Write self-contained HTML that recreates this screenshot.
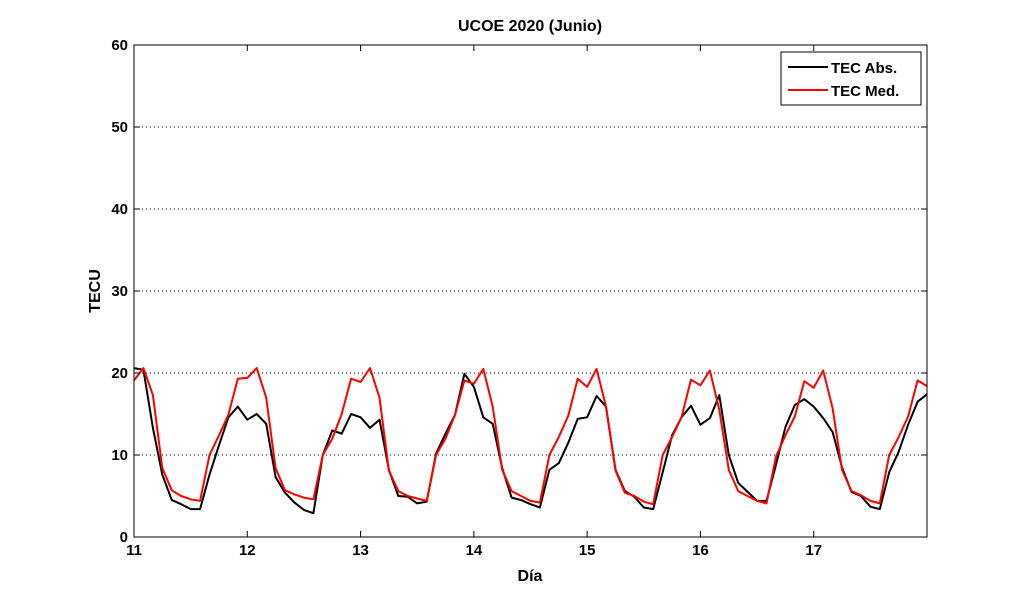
<!DOCTYPE html>
<html><head><meta charset="utf-8"><style>
body{margin:0;background:#fff}
svg{display:block;font-family:"Liberation Sans",Arial,sans-serif;font-weight:bold}
</style></head><body>
<svg id="chart" width="1024" height="604" viewBox="0 0 1024 604">
<rect x="0" y="0" width="1024" height="604" fill="#fff"/>
<text x="530" y="31" text-anchor="middle" font-size="16">UCOE 2020 (Junio)</text>
<g id="grid"></g>
<g id="series"></g>
<rect x="134" y="45" width="793" height="492" fill="none" stroke="#000" stroke-width="1"/>
<g id="ticks"></g>
<text x="530" y="581" text-anchor="middle" font-size="16">Día</text>
<text transform="translate(100,291) rotate(-90)" text-anchor="middle" font-size="16">TECU</text>
<g>
<rect x="781" y="52" width="140" height="53" fill="#fff" stroke="#000"/>
<line x1="788" y1="67" x2="828" y2="67" stroke="#000" stroke-width="2"/>
<text x="831" y="73" font-size="15">TEC Abs.</text>
<line x1="788" y1="90" x2="828" y2="90" stroke="#f00" stroke-width="2"/>
<text x="831" y="96" font-size="15">TEC Med.</text>
</g>
</svg>
<script>
const xTicks = [11,12,13,14,15,16,17];
const yTicks = [0,10,20,30,40,50,60];
const startDay = 11;
const stepsPerDay = 12;
const tecAbs = [20.6,20.4,13.3,7.6,4.5,4.0,3.4,3.4,7.6,11.2,14.6,15.9,
14.3,15,13.8,7.3,5.4,4.2,3.3,2.9,10,13,12.6,15,
14.6,13.3,14.3,8.2,5.0,4.9,4.1,4.3,10.2,12.6,14.9,19.9,
18.3,14.6,13.8,8.4,4.8,4.5,4.0,3.6,8.2,9.0,11.5,14.4,
14.6,17.2,15.9,8.2,5.6,4.9,3.6,3.4,7.9,12.4,14.6,16,
13.7,14.5,17.3,10,6.6,5.5,4.4,4.4,8.8,13.4,16.1,16.8,
15.9,14.5,12.8,8.5,5.5,5.0,3.7,3.4,7.9,10.4,13.7,16.5,17.4];
const tecMed = [19.1,20.6,17.3,8.4,5.7,5.0,4.6,4.4,10,12.4,14.9,19.3,
19.4,20.6,17,8.4,5.7,5.2,4.8,4.6,10,12,15,19.3,
18.9,20.6,17,8.1,5.6,5.0,4.7,4.4,10,12,14.9,19.1,
18.7,20.5,15.9,8.2,5.6,5.0,4.4,4.2,10,12.2,14.8,19.3,
18.3,20.5,15.9,8.1,5.4,5.0,4.3,4.0,10,12.2,14.6,19.2,
18.5,20.3,15.5,8.2,5.6,5.0,4.4,4.1,9.8,12.4,14.7,19,
18.2,20.3,15.7,8.2,5.6,5.1,4.4,4.1,10,12.2,14.7,19.1,18.4];

const NS='http://www.w3.org/2000/svg';
const X0=134,X1=927,Y0=537,Y1=45;
const xMin=11,xMax=18,yMin=0,yMax=60;
function sx(v){return X0+(v-xMin)/(xMax-xMin)*(X1-X0);}
function sy(v){return Y0-(v-yMin)/(yMax-yMin)*(Y0-Y1);}
function mk(tag,attrs,parent){const e=document.createElementNS(NS,tag);for(const k in attrs)e.setAttribute(k,attrs[k]);parent.appendChild(e);return e;}
const grid=document.getElementById('grid'),ticks=document.getElementById('ticks'),series=document.getElementById('series');
yTicks.forEach(v=>{
  const y=sy(v);
  if(v>yMin&&v<yMax){
    const g=mk('line',{x1:X0,x2:X1,y1:y,y2:y,stroke:'#000','stroke-width':1,'stroke-dasharray':'1,3'},grid);
    
    
  }
  const t1=mk('line',{x1:X0,x2:X0+6,y1:y,y2:y,stroke:'#000'},ticks);
  
  
  const t2=mk('line',{x1:X1-6,x2:X1,y1:y,y2:y,stroke:'#000'},ticks);
  
  
  const l=mk('text',{x:X0-6,y:y+5,'text-anchor':'end','font-size':15},ticks);
  l.textContent=v;
  
  
});
xTicks.forEach(v=>{
  const x=sx(v);
  const t1=mk('line',{x1:x,x2:x,y1:Y0,y2:Y0-6,stroke:'#000'},ticks);
  
  
  const t2=mk('line',{x1:x,x2:x,y1:Y1,y2:Y1+6,stroke:'#000'},ticks);
  
  
  const l=mk('text',{x:x,y:Y0+18,'text-anchor':'middle','font-size':15},ticks);
  l.textContent=v;
  
  
});
function draw(arr,color,name){
  const pts=arr.map((v,i)=>sx(startDay+i/stepsPerDay).toFixed(1)+','+sy(v).toFixed(1)).join(' ');
  const p=mk('polyline',{points:pts,fill:'none',stroke:color,'stroke-width':2,'stroke-linejoin':'round'},series);
  
  
}
draw(tecAbs,'#000','tec-abs-line');
draw(tecMed,'#f00','tec-med-line');
</script>
</body></html>
